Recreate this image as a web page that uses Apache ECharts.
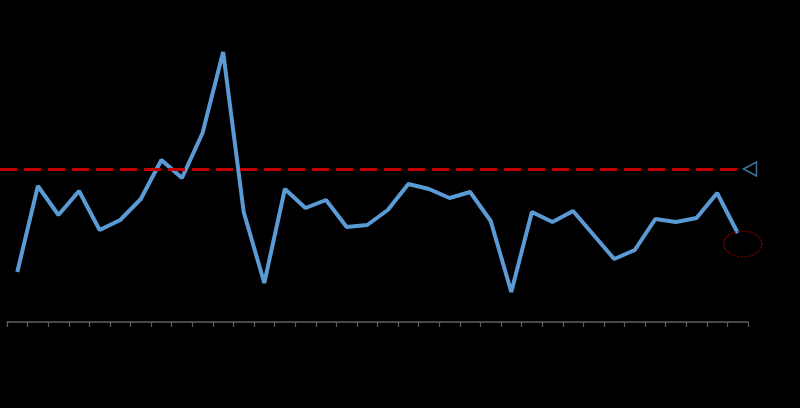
<!DOCTYPE html>
<html>
<head>
<meta charset="utf-8">
<script src="https://cdn.jsdelivr.net/npm/echarts@6/dist/echarts.min.js"></script>
<style>
  html, body { margin: 0; padding: 0; background: #000; }
  #main { width: 800px; height: 408px; }
</style>
</head>
<body>
<div id="main"></div>
<script>
// categories (no visible labels in the picture)
var categories = ['1','2','3','4','5','6','7','8','9','10','11','12','13','14','15','16','17','18',
                  '19','20','21','22','23','24','25','26','27','28','29','30','31','32','33','34','35','36'];
// series values
var values = [5.0, 13.6, 10.7, 13.1, 9.2, 10.2, 12.3, 16.2, 14.4, 18.9, 27.0, 11.0,
              3.9, 13.3, 11.4, 12.2, 9.5, 9.7, 11.2, 13.8, 13.3, 12.4, 13.0, 10.1,
              3.0, 11.0, 10.0, 11.1, 8.7, 6.3, 7.2, 10.3, 10.0, 10.4, 12.9, 8.9];
// reference level (red dashed line)
var refValue = 15.3;
var yMin = 0, yMax = 30;

var lastIdx = values.length - 1;

var myChart = echarts.init(document.getElementById('main'));
myChart.setOption({
  backgroundColor: '#000',
  animation: false,
  grid: { left: 7, right: 52, top: 22, bottom: 86 },
  xAxis: {
    type: 'category',
    data: categories,
    boundaryGap: true,
    axisLine: { lineStyle: { color: '#5f5f5f', width: 1.5 } },
    axisTick: { show: true, interval: 0, length: 5, lineStyle: { color: '#5f5f5f', width: 1.2 } },
    axisLabel: { show: false }
  },
  yAxis: {
    type: 'value',
    min: yMin,
    max: yMax,
    show: false,
    splitLine: { show: false }
  },
  series: [{
    type: 'line',
    data: values,
    showSymbol: false,
    lineStyle: { color: '#5b9bd5', width: 4 },
    itemStyle: { color: '#5b9bd5' },
    markLine: {
      silent: true,
      symbol: ['none', 'none'],
      label: { show: false },
      lineStyle: { color: '#c00000', width: 3, type: [17, 7] },
      data: [[
        { yAxis: refValue, x: 0 },
        { yAxis: refValue, x: 743 }
      ]]
    },
    markPoint: {
      silent: true,
      label: { show: false },
      data: [
        {
          coord: [categories[lastIdx], refValue],
          x: 750,
          symbol: 'triangle',
          symbolSize: [14, 13],
          symbolRotate: 90,
          itemStyle: { color: 'none', borderColor: '#41719c', borderWidth: 1.5 }
        },
        {
          coord: [categories[lastIdx], values[lastIdx]],
          symbol: 'circle',
          symbolSize: [38, 26],
          symbolOffset: [5, 11],
          itemStyle: { color: 'none', borderColor: '#8b0000', borderWidth: 1, borderType: [2, 1] }
        }
      ]
    }
  }]
});
</script>
</body>
</html>
